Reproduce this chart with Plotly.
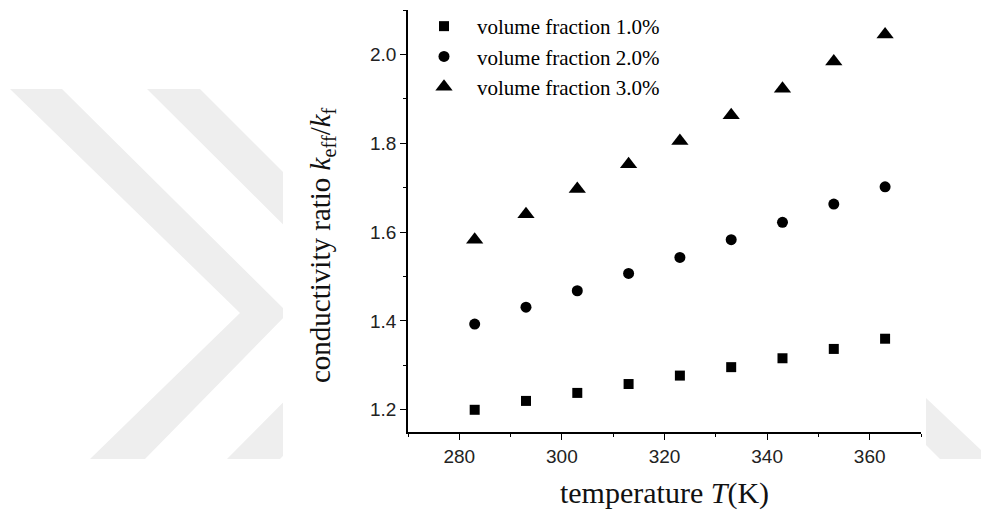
import plotly.graph_objects as go

# ---- data ----
temperature = [283, 293, 303, 313, 323, 333, 343, 353, 363]
ratio_1pct = [1.200, 1.220, 1.238, 1.258, 1.277, 1.296, 1.316, 1.337, 1.360]
ratio_2pct = [1.393, 1.431, 1.468, 1.507, 1.543, 1.583, 1.622, 1.663, 1.702]
ratio_3pct = [1.583, 1.640, 1.697, 1.753, 1.805, 1.863, 1.923, 1.984, 2.045]
series_names = ["volume fraction 1.0%", "volume fraction 2.0%", "volume fraction 3.0%"]
series_symbols = ["square", "circle", "triangle-up"]
series_sizes = [10, 11, 15]
x_ticks = [280, 300, 320, 340, 360]
y_ticks = [1.2, 1.4, 1.6, 1.8, 2.0]
x_title = "temperature <i>T</i>(K)"
y_title = "conductivity ratio <i>k</i><sub>eff</sub>/<i>k</i><sub>f</sub>"

W, H = 981, 522
ML, MR, MT, MB = 408, 60, 10, 90
PW, PH = W - ML - MR, H - MT - MB


def px(x):
    return (x - ML) / PW


def py(y):
    return (H - MB - y) / PH


def poly(points):
    return "M " + " L ".join(f"{px(a):.5f},{py(b):.5f}" for a, b in points) + " Z"


fig = go.Figure()
for name, ys, sym, sz in zip(series_names, [ratio_1pct, ratio_2pct, ratio_3pct],
                             series_symbols, series_sizes):
    fig.add_trace(go.Scatter(
        x=temperature, y=ys, mode="markers", name=name,
        marker=dict(symbol=sym, size=sz, color="black", line=dict(width=0)),
    ))

# background watermark (grey chevrons outside the chart image)
grey = "#eeeeee"
shapes = []
wm_polys = [
    [(10, 89), (62, 89), (288, 313), (145, 459), (90, 459), (240, 313)],
    [(147, 89), (200, 89), (424, 313), (280, 459), (227, 459), (372, 313)],
    [(926, 398), (981, 450), (981, 459), (940, 459), (926, 445)],
]
for p in wm_polys:
    shapes.append(dict(type="path", xref="paper", yref="paper", path=poly(p),
                       fillcolor=grey, line=dict(width=0), layer="below"))
shapes.append(dict(type="rect", xref="paper", yref="paper",
                   x0=px(283), x1=px(926), y0=py(522), y1=py(0),
                   fillcolor="white", line=dict(width=0), layer="below"))

serif = "Liberation Serif, Times New Roman, serif"
axis_common = dict(
    showline=True, linecolor="black", linewidth=1.6, mirror=False,
    ticks="outside", ticklen=6, tickwidth=1.4, tickcolor="black",
    showgrid=False, zeroline=False,
    tickfont=dict(family="Liberation Sans, Arial", size=19, color="#222"),
)

fig.update_layout(
    width=W, height=H,
    margin=dict(l=ML, r=MR, t=MT, b=MB, pad=0, autoexpand=False),
    paper_bgcolor="white", plot_bgcolor="rgba(0,0,0,0)",
    shapes=shapes,
    showlegend=True,
    legend=dict(x=px(411), y=py(6), xanchor="left", yanchor="top",
                bgcolor="rgba(0,0,0,0)", borderwidth=0,
                font=dict(family=serif, size=21, color="black"),
                itemwidth=56, tracegroupgap=0),
    xaxis=dict(range=[270, 370], tickvals=x_ticks,
               minor=dict(ticks="outside", dtick=10, tick0=270, ticklen=3,
                          tickwidth=1.2, tickcolor="black"),
               title=dict(text=x_title, standoff=16,
                          font=dict(family=serif, size=30, color="#111")),
               **axis_common),
    yaxis=dict(range=[1.15, 2.1], tickvals=y_ticks, tickformat=".1f",
               minor=dict(ticks="outside", dtick=0.1, tick0=1.1, ticklen=3,
                          tickwidth=1.2, tickcolor="black"),
               **axis_common),
    annotations=[dict(text=y_title, textangle=-90, showarrow=False,
                      xref="paper", yref="paper", x=px(322), y=py(245),
                      xanchor="center", yanchor="middle",
                      font=dict(family=serif, size=29, color="#111"))],
)

fig.write_html("out.html")
